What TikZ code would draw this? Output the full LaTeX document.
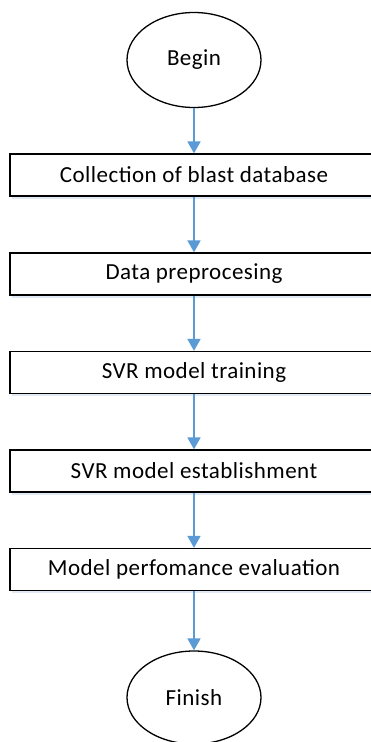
\documentclass[tikz,border=0pt]{standalone}
\usepackage{fontspec}
\setmainfont{Carlito}[LetterSpace=2]
\usetikzlibrary{shapes.geometric,arrows.meta}
\definecolor{arrowblue}{RGB}{91,155,213}
\definecolor{shadowblue}{RGB}{225,234,244}
\tikzset{
  stepbox/.style={draw=black, line width=1.3pt, fill=white, rectangle, minimum width=368pt, minimum height=42pt, inner sep=0pt, font=\fontsize{23}{27}\selectfont},
  termnode/.style={draw=black, line width=1.3pt, fill=white, ellipse, minimum width=134pt, minimum height=95pt, inner sep=0pt, font=\fontsize{23}{27}\selectfont},
  flowarrow/.style={draw=arrowblue, line width=1.8pt, -{Triangle[width=13pt,length=12pt]}},
  boxshadow/.style={fill=shadowblue, draw=none, rectangle, minimum width=368pt, minimum height=42pt}
}
\begin{document}
\begin{tikzpicture}[x=1pt,y=-1pt]
\useasboundingbox (0,0) rectangle (371,742);
\fill[white] (0,0) rectangle (371,742);
% shadows
\foreach \yy in {175,274,372.5,471,569.5}{
  \node[boxshadow] at (195.5,\yy+2.5) {};
}
\node[termnode] (begin) at (194,60) {Begin};
\node[stepbox] (s1) at (194,175) {Collection of blast database};
\node[stepbox] (s2) at (194,274) {Data preprocesing};
\node[stepbox] (s3) at (194,372.5) {SVR model training};
\node[stepbox] (s4) at (194,471) {SVR model establishment};
\node[stepbox] (s5) at (194,569.5) {Model perfomance evaluation};
\node[termnode, minimum height=93pt] (finish) at (194,697.5) {Finish};
\draw[flowarrow] (begin.south) -- (s1.north);
\draw[flowarrow] (s1.south) -- (s2.north);
\draw[flowarrow] (s2.south) -- (s3.north);
\draw[flowarrow] (s3.south) -- (s4.north);
\draw[flowarrow] (s4.south) -- (s5.north);
\draw[flowarrow] (s5.south) -- (finish.north);
\end{tikzpicture}
\end{document}
